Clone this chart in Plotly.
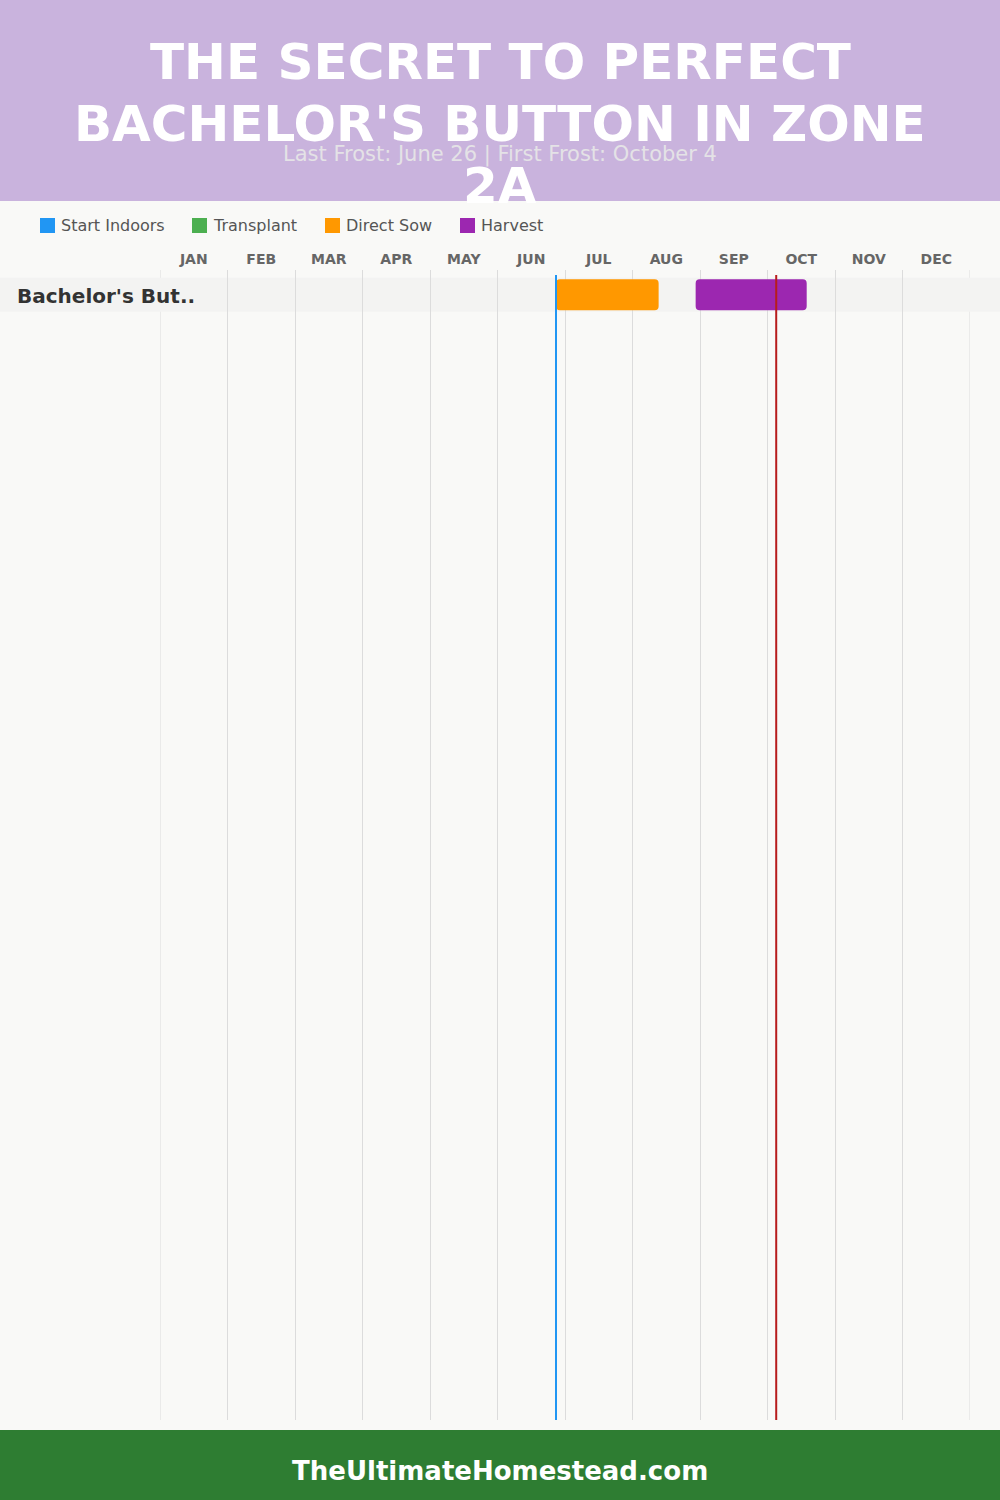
import calendar
import plotly.graph_objects as go

# ---------------- data ----------------
title_lines = ["THE SECRET TO PERFECT", "BACHELOR'S BUTTON IN ZONE", "2A"]
subtitle = "Last Frost: June 26 | First Frost: October 4"
footer_text = "TheUltimateHomestead.com"

months = ["JAN", "FEB", "MAR", "APR", "MAY", "JUN",
          "JUL", "AUG", "SEP", "OCT", "NOV", "DEC"]

legend_names = ["Start Indoors", "Transplant", "Direct Sow", "Harvest"]
legend_colors = ["#2196f3", "#4caf50", "#ff9800", "#9c27b0"]

plants = ["Bachelor's But.."]

# activity periods (month, day)
task_plant = ["Bachelor's But..", "Bachelor's But.."]
task_type = ["Direct Sow", "Harvest"]
task_start = [(6, 26), (8, 29)]
task_end = [(8, 12), (10, 18)]

last_frost = (6, 26)
first_frost = (10, 4)

# ---------------- helpers ----------------
W, H = 1000, 1500
ML, MR, MT, MB = 160, 30, 270, 80
PW, PH = W - ML - MR, H - MT - MB


def mpos(md):
    m, d = md
    return (m - 1) + d / calendar.monthrange(2023, m)[1]


def py(p):  # pixel y -> paper y
    return (H - MB - p) / PH


def px(p):  # pixel x -> paper x
    return (p - ML) / PW


FONT = "DejaVu Sans"
GRID = "#dcdcdc"
color_of = dict(zip(legend_names, legend_colors))

fig = go.Figure()

for name in legend_names:
    idx = [i for i, t in enumerate(task_type) if t == name]
    if not idx:
        continue
    starts = [mpos(task_start[i]) for i in idx]
    ends = [mpos(task_end[i]) for i in idx]
    fig.add_trace(go.Bar(
        orientation="h",
        y=[task_plant[i] for i in idx],
        base=starts,
        x=[e - s for s, e in zip(starts, ends)],
        marker=dict(color=color_of[name], line=dict(width=0), cornerradius=4),
        width=0.91,
        name=name,
        showlegend=False,
        hoverinfo="skip",
    ))

shapes = []
annotations = []

# header band
shapes.append(dict(type="rect", xref="paper", yref="paper",
                   x0=px(0), x1=px(W), y0=py(201), y1=py(0),
                   fillcolor="#c9b3dd", line=dict(width=0), layer="below"))
# footer band
shapes.append(dict(type="rect", xref="paper", yref="paper",
                   x0=px(0), x1=px(W), y0=py(H), y1=py(1430),
                   fillcolor="#2e7d32", line=dict(width=0), layer="below"))

# edge gridlines (plotly hides grid lines at the range ends)
for xv in [0, len(months)]:
    shapes.append(dict(type="line", xref="x", yref="paper",
                       x0=xv, x1=xv, y0=0, y1=1,
                       line=dict(color=GRID, width=1), layer="between"))

# row bands
for p in plants:
    i = plants.index(p)
    shapes.append(dict(type="rect", xref="paper", yref="y",
                       x0=px(0), x1=px(W), y0=i - 0.5, y1=i + 0.5,
                       fillcolor="#f3f3f2", line=dict(width=0), layer="between"))
    annotations.append(dict(text=p, xref="paper", yref="y", x=px(15), y=i,
                            xanchor="left", yanchor="middle", showarrow=False,
                            yshift=-1,
                            font=dict(family=FONT, size=20, color="#333333", weight="bold")))

# frost lines
for md, col in [(last_frost, "#2196f3"), (first_frost, "#b71c1c")]:
    shapes.append(dict(type="line", xref="x", yref="paper",
                       x0=mpos(md), x1=mpos(md), y0=0, y1=py(275),
                       line=dict(color=col, width=2), layer="above"))

# legend
legend_x = [40, 192, 325, 460]
for name, col, x0 in zip(legend_names, legend_colors, legend_x):
    shapes.append(dict(type="rect", xref="paper", yref="paper",
                       x0=px(x0), x1=px(x0 + 15), y0=py(233), y1=py(218),
                       fillcolor=col, line=dict(width=0)))
    annotations.append(dict(text=name, xref="paper", yref="paper",
                            x=px(x0 + 19), y=py(225), xanchor="left", yanchor="middle",
                            showarrow=False,
                            font=dict(family=FONT, size=16, color="#555555")))

# subtitle then title
annotations.append(dict(text=subtitle, xref="paper", yref="paper",
                        x=px(500), y=py(155), xanchor="center", yanchor="middle",
                        showarrow=False,
                        font=dict(family=FONT, size=21, color="#e4e2e6")))
title_y = [62, 124, 186]
for t, yy in zip(title_lines, title_y):
    annotations.append(dict(text=t, xref="paper", yref="paper",
                            x=px(500), y=py(yy), xanchor="center", yanchor="middle",
                            showarrow=False,
                            font=dict(family=FONT, size=50, color="#ffffff", weight="bold")))

# footer text
annotations.append(dict(text=footer_text, xref="paper", yref="paper",
                        x=px(500), y=py(1471), xanchor="center", yanchor="middle",
                        showarrow=False,
                        font=dict(family=FONT, size=26, color="#ffffff", weight="bold")))

fig.update_layout(
    width=W, height=H,
    margin=dict(l=ML, r=MR, t=MT, b=MB, pad=0),
    paper_bgcolor="#f9f9f7",
    plot_bgcolor="#f9f9f7",
    showlegend=False,
    shapes=shapes,
    annotations=annotations,
    barmode="overlay",
    xaxis=dict(
        range=[0, 12], side="top", fixedrange=True,
        tickmode="array",
        tickvals=[i + 0.5 for i in range(len(months))],
        ticktext=months,
        ticks="", showgrid=False, zeroline=False, showline=False,
        ticklabelstandoff=2,
        tickfont=dict(family=FONT, size=14, color="#666666", weight="bold"),
        minor=dict(tickmode="array", tickvals=list(range(len(months) + 1)),
                   showgrid=True, gridcolor=GRID, gridwidth=1, ticks=""),
    ),
    yaxis=dict(
        type="category", categoryorder="array", categoryarray=plants,
        range=[33.10, -0.726], fixedrange=True,
        showticklabels=False, showgrid=False, zeroline=False, showline=False,
    ),
)

fig.write_html("out.html")
